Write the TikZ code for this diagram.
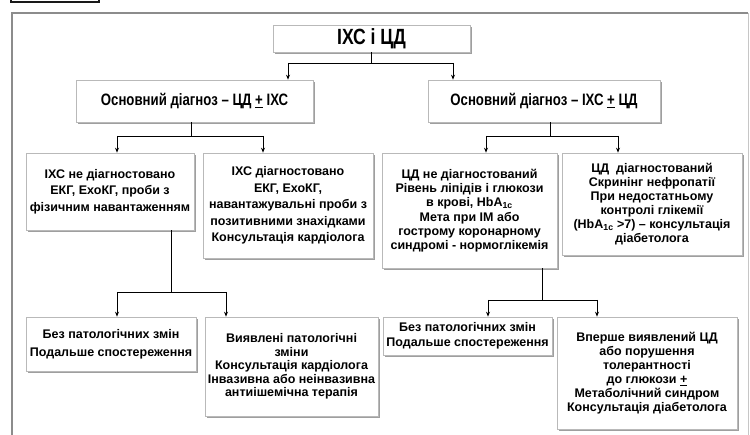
\documentclass[tikz,border=0pt]{standalone}
\usepackage{fontspec}
\setmainfont{Liberation Sans}
\newfontfamily\narrowfont[FakeStretch=0.8]{Liberation Sans}
\usetikzlibrary{arrows.meta,shadows}
\begin{document}
\begin{tikzpicture}[x=1pt,y=-1pt,
  bx/.style={draw=gray!55,line width=0.6pt,fill=white,align=center,
    inner sep=0pt,font=\bfseries\fontsize{12.5}{14}\selectfont,
    drop shadow={shadow xshift=1.6pt,shadow yshift=-1.6pt,fill=gray!75,opacity=1}},
  ln/.style={draw=black,line width=0.8pt},
  arr/.style={ln,-{Stealth[length=5pt,width=4pt]}}
]
\useasboundingbox (0,0) rectangle (750,435);
\fill[white] (0,0) rectangle (750,435);
% top-left tab and outer frame
\draw[gray!20!black,line width=1.5pt] (11,0) -- (11,2) -- (99,2) -- (99,0);
\draw[gray!90,line width=2pt] (12,435) -- (12,13) -- (748,13);
\draw[gray!45,line width=0.8pt] (748,13) -- (748,435);

% nodes
\node[bx,minimum width=197pt,minimum height=27pt,font=\narrowfont\bfseries\fontsize{22}{24}\selectfont] (top) at (371.5,38.5) {ІХС і ЦД};
\node[bx,minimum width=237pt,minimum height=42pt,font=\narrowfont\bfseries\fontsize{16.5}{18}\selectfont] (l2a) at (194.5,101) {Основний діагноз – ЦД \underline{+} ІХС};
\node[bx,minimum width=232pt,minimum height=42pt,font=\narrowfont\bfseries\fontsize{16.5}{18}\selectfont] (l2b) at (544,101) {Основний діагноз – ІХС \underline{+} ЦД};

\node[bx,minimum width=168pt,minimum height=77pt,font=\bfseries\fontsize{12.5}{16.6}\selectfont] (b1) at (110,191.5) {ІХС не діагностовано\\ЕКГ, ЕхоКГ, проби з\\фізичним навантаженням};
\node[bx,minimum width=170pt,minimum height=105pt,font=\bfseries\fontsize{12.5}{16.6}\selectfont] (b2) at (288,205.5) {ІХС діагностовано\\ЕКГ, ЕхоКГ,\\навантажувальні проби з\\позитивними знахідками\\Консультація кардіолога};
\node[bx,minimum width=175pt,minimum height=115pt,font=\bfseries\fontsize{12.5}{14.3}\selectfont] (b3) at (469.5,210.5) {ЦД не діагностований\\Рівень ліпідів і глюкози\\в крові, HbA\textsubscript{1c}\\Мета при ІМ або\\гострому коронарному\\синдромі - нормоглікемія};
\node[bx,minimum width=180pt,minimum height=102pt,font=\bfseries\fontsize{12.5}{14}\selectfont] (b4) at (652,204) {ЦД\ \ діагностований\\Скринінг нефропатії\\При недостатньому\\контролі глікемії\\(HbA\textsubscript{1c} >7) – консультація\\діабетолога};

\node[bx,minimum width=170pt,minimum height=54pt,font=\bfseries\fontsize{12.5}{17.7}\selectfont] (b5) at (111,344) {Без патологічних змін\\Подальше спостереження};
\node[bx,minimum width=173pt,minimum height=99pt,font=\bfseries\fontsize{12.5}{13.5}\selectfont] (b6) at (291.5,366.5) {Виявлені патологічні\\зміни\\Консультація кардіолога\\Інвазивна або неінвазивна\\антиішемічна терапія};
\node[bx,minimum width=169pt,minimum height=38pt,font=\bfseries\fontsize{12.5}{15}\selectfont] (b7) at (467.5,336) {Без патологічних змін\\Подальше спостереження};
\node[bx,minimum width=180pt,minimum height=112pt,font=\bfseries\fontsize{12.5}{14}\selectfont] (b8) at (647,373) {Вперше виявлений ЦД\\або порушення\\толерантності\\до глюкози \underline{+}\\Метаболічний синдром\\Консультація діабетолога};

% junction coordinates
\coordinate (j0) at (371,63);
\coordinate (j0a) at (288,63);
\coordinate (j0b) at (453,63);
\coordinate (j1) at (191,136);
\coordinate (j1a) at (117,136);
\coordinate (j1b) at (263,136);
\coordinate (j2) at (550,136);
\coordinate (j2a) at (486,136);
\coordinate (j2b) at (618,136);
\coordinate (j3) at (171,292);
\coordinate (j3a) at (117,292);
\coordinate (j3b) at (226,292);
\coordinate (j4) at (542,300);
\coordinate (j4a) at (488,300);
\coordinate (j4b) at (597,300);

% connectors
\draw[ln] (top.south -| j0) -- (j0);
\draw[ln] (j0a) -- (j0b);
\draw[arr] (j0a) -- (j0a |- l2a.north);
\draw[arr] (j0b) -- (j0b |- l2b.north);

\draw[ln] (l2a.south -| j1) -- (j1);
\draw[ln] (j1a) -- (j1b);
\draw[arr] (j1a) -- (j1a |- b1.north);
\draw[arr] (j1b) -- (j1b |- b2.north);

\draw[ln] (l2b.south -| j2) -- (j2);
\draw[ln] (j2a) -- (j2b);
\draw[arr] (j2a) -- (j2a |- b3.north);
\draw[arr] (j2b) -- (j2b |- b4.north);

\draw[ln] (b1.south -| j3) -- (j3);
\draw[ln] (j3a) -- (j3b);
\draw[arr] (j3a) -- (j3a |- b5.north);
\draw[arr] (j3b) -- (j3b |- b6.north);

\draw[ln] (b3.south -| j4) -- (j4);
\draw[ln] (j4a) -- (j4b);
\draw[arr] (j4a) -- (j4a |- b7.north);
\draw[arr] (j4b) -- (j4b |- b8.north);
\end{tikzpicture}
\end{document}
